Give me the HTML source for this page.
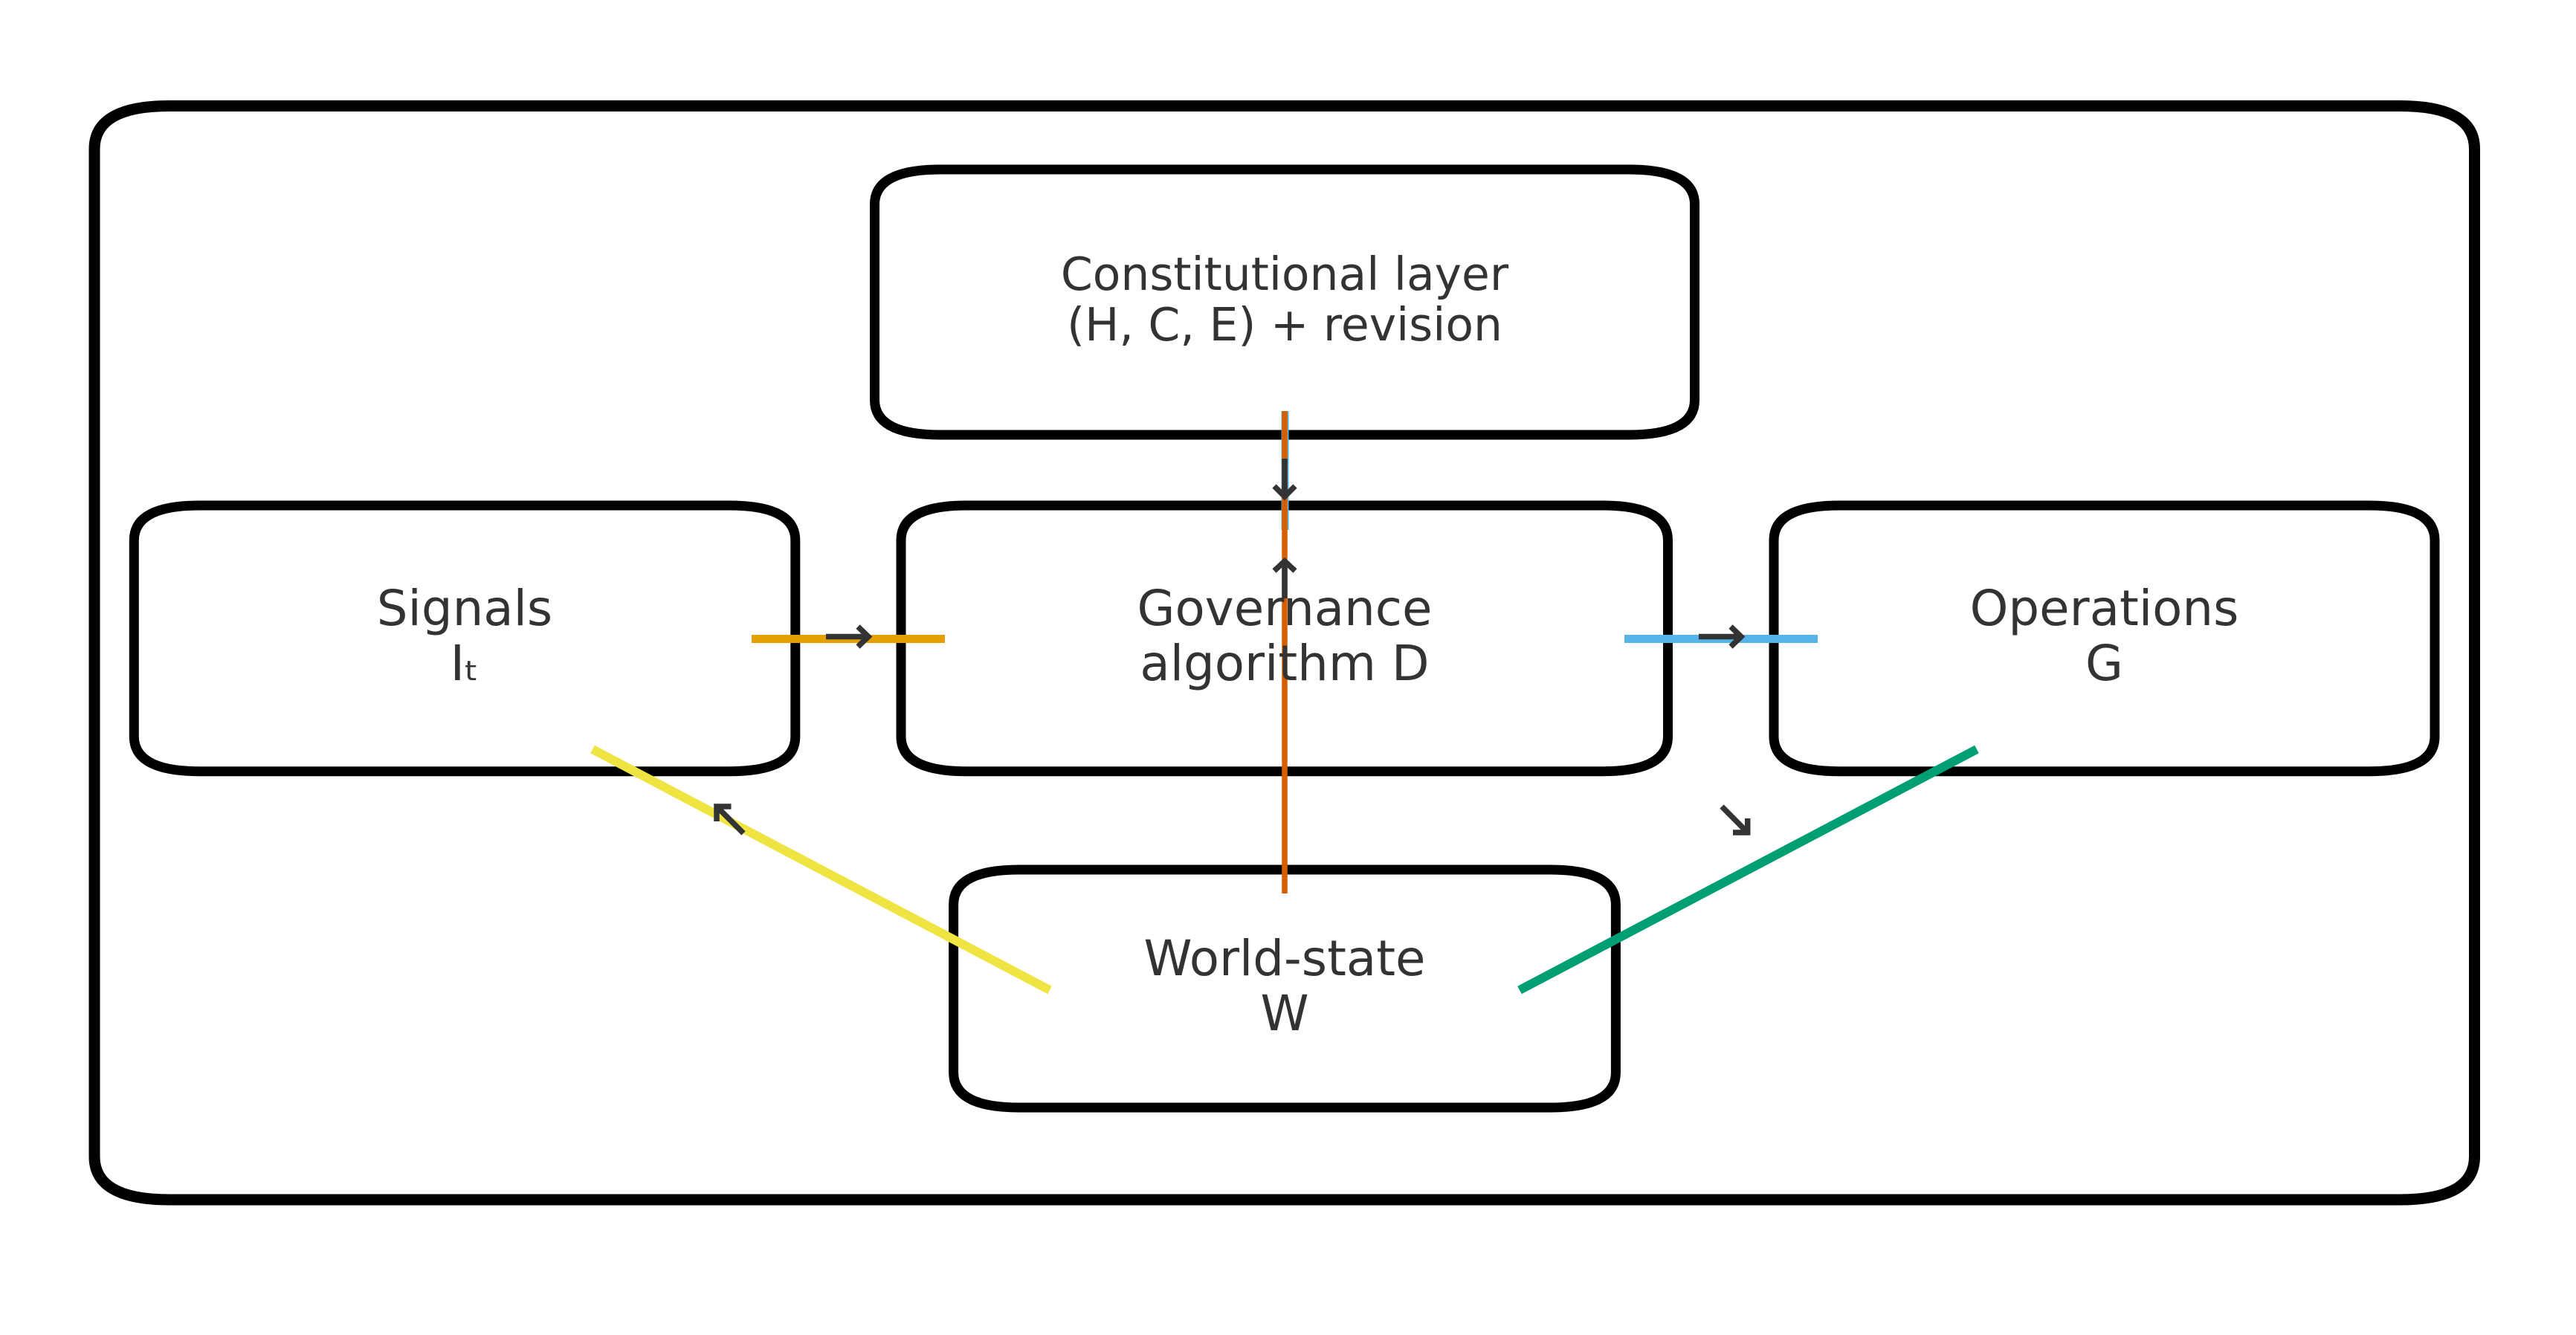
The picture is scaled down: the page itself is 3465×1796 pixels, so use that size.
<!DOCTYPE html>
<html><head><meta charset="utf-8"><style>
html,body{margin:0;padding:0;background:#fff;width:3465px;height:1796px;overflow:hidden}
svg{display:block}
text{font-family:"DejaVu Sans","Liberation Sans",sans-serif;font-size:65.8px;fill:#333;text-anchor:middle}
.b{fill:none;stroke:#000;stroke-width:13}
.a{fill:none;stroke:#333;stroke-width:7.5}
</style></head><body>
<svg width="3465" height="1796" viewBox="0 0 3465 1796" xmlns="http://www.w3.org/2000/svg">
<rect width="3465" height="1796" fill="#fff"/>
<path d="M228 142.5H3228Q3328.5 142.5 3328.5 200.5V1556Q3328.5 1614 3228 1614H228Q127 1614 127 1556V200.5Q127 142.5 228 142.5Z" fill="none" stroke="#000" stroke-width="15"/>
<path class="b" d="M1265 228H2191Q2279.5 228 2279.5 275V538Q2279.5 585 2191 585H1265Q1176.5 585 1176.5 538V275Q1176.5 228 1265 228Z"/>
<path class="b" d="M268.5 680H981Q1069.8 680 1069.8 727V990.7Q1069.8 1037.7 981 1037.7H268.5Q180.3 1037.7 180.3 990.7V727Q180.3 680 268.5 680Z"/>
<path class="b" d="M1300 680H2155.5Q2243.5 680 2243.5 727V990.7Q2243.5 1037.7 2155.5 1037.7H1300Q1212 1037.7 1212 990.7V727Q1212 680 1300 680Z"/>
<path class="b" d="M2474 680H3187Q3275 680 3275 727V990.7Q3275 1037.7 3187 1037.7H2474Q2386 1037.7 2386 990.7V727Q2386 680 2474 680Z"/>
<path class="b" d="M1371 1170H2085Q2173.4 1170 2173.4 1217V1443Q2173.4 1490 2085 1490H1371Q1282.6 1490 1282.6 1443V1217Q1282.6 1170 1371 1170Z"/>
<line x1="1011" y1="859.5" x2="1271" y2="859.5" stroke="#E69F00" stroke-width="11"/>
<line x1="2185" y1="859.5" x2="2445" y2="859.5" stroke="#56B4E9" stroke-width="11"/>
<line x1="1728.5" y1="553" x2="1728.5" y2="713" stroke="#56B4E9" stroke-width="10"/>
<line x1="1728" y1="553" x2="1728" y2="1202" stroke="#D55E00" stroke-width="7.5"/>
<line x1="797" y1="1008" x2="1412" y2="1332" stroke="#F0E442" stroke-width="12"/>
<line x1="2659" y1="1008" x2="2044" y2="1332" stroke="#009E73" stroke-width="12"/>
<text x="1728" y="390" style="font-size:61.5px">Constitutional layer</text>
<text x="1728" y="458" style="font-size:61.5px">(H, C, E) + revision</text>
<text x="625" y="841">Signals</text>
<text x="625" y="915">Iₜ</text>
<text x="1728" y="841">Governance</text>
<text x="1728" y="915">algorithm D</text>
<text x="2830.5" y="841">Operations</text>
<text x="2830.5" y="915">G</text>
<text x="1728" y="1312">World-state</text>
<text x="1728" y="1386">W</text>
<path class="a" d="M1111 856.5H1168M1154 843L1168 856.5L1154 870"/>
<path class="a" d="M2285 856.5H2342M2328 843L2342 856.5L2328 870"/>
<path class="a" d="M1728 617V668M1714 654L1728 668L1742 654"/>
<path class="a" d="M1728 805V755M1714 768L1728 755L1742 768"/>
<path class="a" d="M1000 1121L964 1085M983.5 1085H964V1105"/>
<path class="a" d="M2316 1085L2350.7 1120M2350.7 1101V1120H2331"/>
</svg>
</body></html>
